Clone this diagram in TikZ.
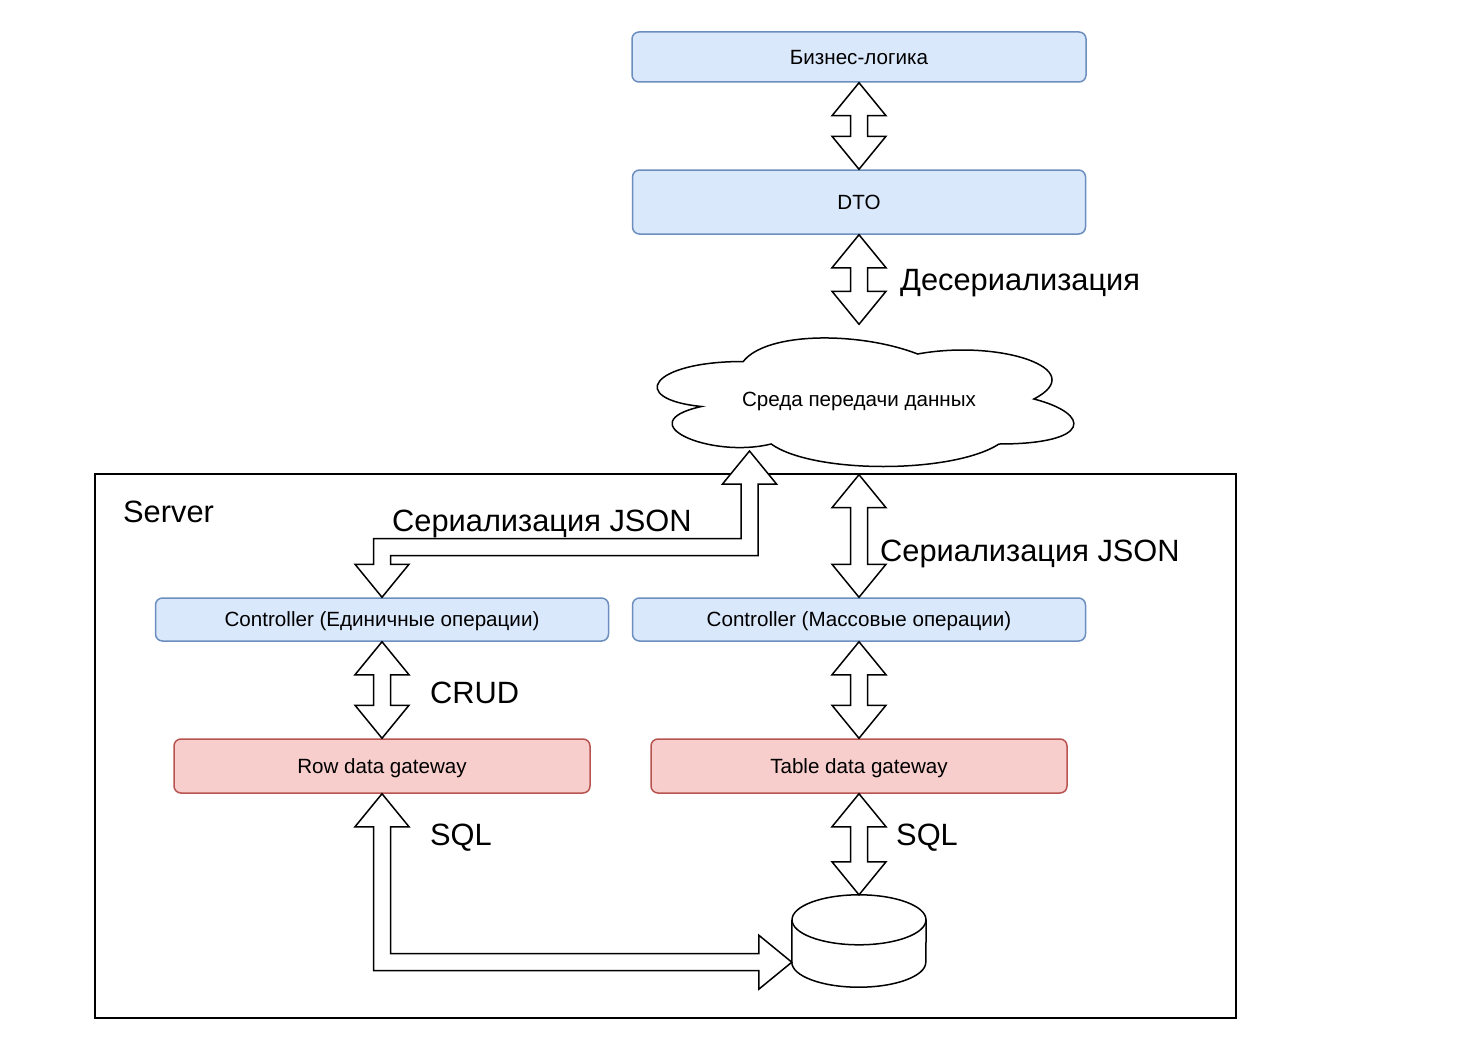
\documentclass[tikz,border=0pt]{standalone}
\usepackage{fontspec}
\setmainfont{Liberation Sans}
\usetikzlibrary{calc}
\definecolor{bfill}{HTML}{DAE8FC}
\definecolor{bline}{HTML}{6C8EBF}
\definecolor{rfill}{HTML}{F8CECC}
\definecolor{rline}{HTML}{B85450}
\newcommand\myflexv[2]{%
  \draw[flexarrow] (#1) -- ($(#1)+(27,33)$) -- ($(#1)+(8.5,33)$) -- ($(#2)+(8.5,-33)$) -- ($(#2)+(27,-33)$) -- (#2)
   -- ($(#2)+(-27,-33)$) -- ($(#2)+(-8.5,-33)$) -- ($(#1)+(-8.5,33)$) -- ($(#1)+(-27,33)$) -- cycle;}
\begin{document}
\begin{tikzpicture}[x=1pt,y=-1pt,
  lbl/.style={font=\fontsize{30.8}{36}\selectfont, text height=22pt, text depth=0pt, inner sep=0pt, anchor=west},
  sm/.style={font=\fontsize{20.6}{24}\selectfont, text height=14.75pt, text depth=0pt, inner sep=0pt},
  bluebox/.style={sm, draw=bline, fill=bfill, line width=1.5pt, rounded corners=7pt},
  redbox/.style={sm, draw=rline, fill=rfill, line width=1.5pt, rounded corners=7pt},
  flexarrow/.style={draw=black, fill=white, line width=1.5pt, line join=miter},
  outline/.style={draw=black, line width=1.5pt}]
\useasboundingbox (0,0) rectangle (1466,1062);
\fill[white] (0,0) rectangle (1466,1062);

% server frame
\node[outline, minimum width=1141, minimum height=544, inner sep=0pt] (frame) at (665.5,746) {};

% cloud
\begin{scope}[shift={(627,324)}, x=465pt, y=-150pt]
\draw[outline, fill=white] (0.25,0.25) .. controls (0.05,0.25) and (0,0.5) .. (0.16,0.55)
  .. controls (0,0.66) and (0.18,0.9) .. (0.31,0.8)
  .. controls (0.4,1) and (0.7,1) .. (0.8,0.8)
  .. controls (1,0.8) and (1,0.6) .. (0.875,0.5)
  .. controls (1,0.3) and (0.8,0.1) .. (0.625,0.2)
  .. controls (0.5,0.05) and (0.3,0.05) .. (0.25,0.25) -- cycle;
\end{scope}
\node[sm, minimum width=465, minimum height=150] (cloud) at (859,399.5) {Среда передачи данных};

% boxes
\node[bluebox, minimum width=454, minimum height=50] (biz) at (859,57) {Бизнес-логика};
\node[bluebox, minimum width=453, minimum height=64] (dto) at (859,202) {DTO};
\node[bluebox, minimum width=453, minimum height=43] (ctrl1) at (382,619.5) {Controller (Единичные операции)};
\node[bluebox, minimum width=453, minimum height=43] (ctrl2) at (859,619.5) {Controller (Массовые операции)};
\node[redbox, minimum width=416, minimum height=54] (row) at (382,766) {Row data gateway};
\node[redbox, minimum width=416, minimum height=54] (tab) at (859,766) {Table data gateway};

% database cylinder
\node[minimum width=134, minimum height=92, inner sep=0pt] (db) at (859,941) {};
\draw[outline, fill=white] ($(db.north west)+(0,25)$) -- ($(db.south west)+(0,-25)$)
  arc[start angle=180, end angle=0, x radius=67, y radius=25] -- ($(db.north east)+(0,25)$);
\draw[outline, fill=white] ($(db.north)+(0,25)$) ellipse[x radius=67, y radius=25];

% labels
\node[lbl] (l-deser) at (900,279) {Десериализация};
\node[lbl] (l-server) at (123,511) {Server};
\node[lbl] (l-ser1) at (392,520) {Сериализация JSON};
\node[lbl] (l-ser2) at (880,550) {Сериализация JSON};
\node[lbl] (l-crud) at (430,692) {CRUD};
\node[lbl] (l-sql1) at (430,834) {SQL};
\node[lbl] (l-sql2) at (896,834) {SQL};

% straight arrows
\myflexv{biz.south}{dto.north}
\myflexv{dto.south}{cloud.north}
\myflexv{cloud.south}{ctrl2.north}
\myflexv{ctrl1.south}{row.north}
\myflexv{ctrl2.south}{tab.north}
\myflexv{tab.south}{db.north}

% elbow arrow cloud -> controller 1
\coordinate (c1) at (749.5,451);
\coordinate (k1) at (749.5,547);
\coordinate (k2) at (ctrl1.north |- k1);
\draw[flexarrow] (c1) -- ($(c1)+(27,33)$) -- ($(c1)+(8.5,33)$) -- ($(k1)+(8.5,8.5)$) -- ($(k2)+(8.5,8.5)$)
  -- ($(ctrl1.north)+(8.5,-33)$) -- ($(ctrl1.north)+(27,-33)$) -- (ctrl1.north) -- ($(ctrl1.north)+(-27,-33)$)
  -- ($(ctrl1.north)+(-8.5,-33)$) -- ($(k2)+(-8.5,-8.5)$) -- ($(k1)+(-8.5,-8.5)$) -- ($(c1)+(-8.5,33)$)
  -- ($(c1)+(-27,33)$) -- cycle;

% elbow arrow row gateway -> database
\coordinate (dbin) at ($(db.south west)+(0,-25)$);
\coordinate (k3) at (row.south |- dbin);
\draw[flexarrow] (row.south) -- ($(row.south)+(27,33)$) -- ($(row.south)+(8.5,33)$) -- ($(k3)+(8.5,-8.5)$)
  -- ($(dbin)+(-33,-8.5)$) -- ($(dbin)+(-33,-27)$) -- (dbin) -- ($(dbin)+(-33,27)$) -- ($(dbin)+(-33,8.5)$)
  -- ($(k3)+(-8.5,8.5)$) -- ($(row.south)+(-8.5,33)$) -- ($(row.south)+(-27,33)$) -- cycle;
\end{tikzpicture}
\end{document}
